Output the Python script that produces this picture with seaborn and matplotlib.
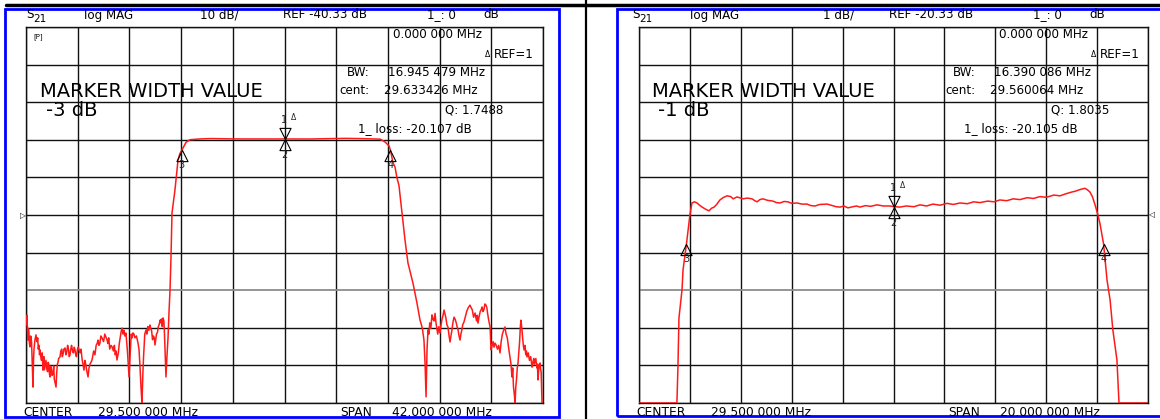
import numpy as np
import pandas as pd
import matplotlib
matplotlib.use("Agg")
import matplotlib.pyplot as plt
import seaborn as sns
from matplotlib.path import Path
from matplotlib.lines import Line2D
from matplotlib.patches import Rectangle

# ---------------- data ----------------
# Left trace: S21 log MAG, 10 dB/div, REF -40.33 dB, center 29.5 MHz, span 42 MHz
left_freq = [8.50, 8.54, 8.58, 8.62, 8.66, 8.70, 8.74, 8.78, 8.82, 8.88, 8.95, 9.01, 9.07, 9.11, 9.15,
             9.23, 9.31, 9.38, 9.45, 9.50, 9.55, 9.60, 9.64, 9.70, 9.76, 9.82, 9.88,
             9.95, 10.00, 10.05, 10.12, 10.18, 10.25, 10.30, 10.35, 10.40, 10.45, 10.50, 10.55, 10.62,
             10.69, 10.75, 10.80, 10.87, 10.94, 11.00, 11.05, 11.10, 11.15,
             11.26, 11.33, 11.40, 11.45, 11.50, 11.58, 11.67, 11.74, 11.80, 11.88, 11.95, 12.01,
             12.07, 12.14, 12.20, 12.28, 12.35, 12.42, 12.48, 12.54, 12.60, 12.68, 12.75,
             12.89, 12.97, 13.05, 13.13, 13.21, 13.28, 13.35, 13.45, 13.54, 13.62, 13.70, 13.78,
             13.86, 14.00, 14.10, 14.20, 14.28, 14.35, 14.42, 14.50, 14.58, 14.67,
             14.80, 14.90, 15.00, 15.08, 15.15, 15.22, 15.30, 15.40, 15.49, 15.60, 15.68, 15.75,
             15.82, 15.89, 16.00, 16.08, 16.15, 16.22, 16.30, 16.38, 16.45, 16.53,
             16.62, 16.68, 16.75, 16.81, 16.87, 16.95, 17.05, 17.12, 17.19, 17.27, 17.35, 17.47,
             17.60, 17.68, 17.75, 17.84, 17.92, 18.00, 18.05, 18.15,
             18.25, 18.32, 18.40, 18.48, 18.57, 18.63, 18.70, 18.78, 18.85, 18.92, 18.98, 19.04,
             19.10, 19.18, 19.25, 19.32, 19.39, 19.45, 19.50, 19.57, 19.63, 19.70, 19.75,
             19.81, 19.87, 19.95, 20.04, 20.12, 20.20, 20.28, 20.36, 20.60, 20.85, 21.00, 21.16, 21.50,
             21.82, 22.64, 23.50, 24.50, 25.50, 26.50, 27.50, 28.50, 29.50, 30.50, 31.50, 32.50,
             33.50, 34.50, 35.50, 36.50, 37.26, 37.67, 38.00, 38.106, 38.32, 38.48, 38.64, 38.80,
             39.05, 39.29, 39.53, 39.94, 40.10, 40.26, 40.51, 40.62, 40.70, 40.83, 40.92, 41.00, 41.08, 41.16,
             41.23, 41.30, 41.39, 41.48, 41.56, 41.65, 41.73, 41.81, 41.88, 41.95, 42.04, 42.13, 42.22,
             42.30, 42.38, 42.46, 42.53, 42.60, 42.69, 42.78, 42.87, 42.95, 43.02, 43.10,
             43.18, 43.27, 43.36, 43.45, 43.52, 43.60, 43.68, 43.76, 43.83, 43.90, 43.98, 44.08, 44.18,
             44.30, 44.42, 44.57, 44.66, 44.75, 44.86, 44.98, 45.04, 45.10, 45.16, 45.22,
             45.30, 45.40, 45.48, 45.55, 45.62, 45.70, 45.78, 45.87, 45.94, 46.00, 46.10, 46.20, 46.28,
             46.36, 46.45, 46.52, 46.60, 46.70, 46.80, 46.90, 47.01, 47.10, 47.20,
             47.30, 47.41, 47.50, 47.60, 47.70, 47.82, 47.90, 47.98, 48.04, 48.10, 48.17, 48.23, 48.29,
             48.35, 48.41, 48.47, 48.53, 48.60, 48.66, 48.71, 48.78, 48.85, 48.90, 48.96,
             49.03, 49.10, 49.15, 49.20, 49.30, 49.40, 49.50, 49.61, 49.68, 49.75, 49.80, 49.85,
             49.92, 50.00, 50.05, 50.09, 50.15, 50.20, 50.26, 50.31, 50.35, 50.42]
left_db = [-67.7, -69.5, -67.0, -71.0, -73.6, -70.5, -71.7, -74.5, -75.4, -72.5, -74.0, -80.0, -86.1, -79.0, -76.0,
           -73.5, -72.2, -74.0, -73.0, -76.0, -75.0, -77.5, -76.2, -78.0, -79.0, -77.0, -81.6,
           -78.0, -81.5, -80.5, -79.0, -81.0, -82.0, -79.5, -80.0, -82.5, -83.4, -80.5, -81.0, -83.0,
           -82.5, -80.5, -84.0, -85.0, -86.1, -82.0, -80.0, -79.5, -78.5,
           -78.1, -76.5, -76.0, -78.0, -77.5, -76.0, -75.7, -77.5, -77.0, -75.0, -76.0, -78.0,
           -77.6, -76.0, -75.0, -76.5, -77.0, -75.5, -76.2, -77.5, -78.0, -76.0, -75.5,
           -77.0, -76.0, -78.5, -80.0, -81.6, -79.0, -80.0, -82.0, -83.4, -81.0, -80.0, -79.5,
           -78.9, -76.5, -77.5, -75.0, -74.5, -73.6, -75.0, -74.5, -72.5, -73.0,
           -74.0, -72.0, -72.8, -73.5, -74.5, -73.0, -76.0, -75.0, -75.4, -76.5, -75.0, -77.5,
           -76.5, -78.9, -77.0, -74.5, -73.0, -71.5, -70.4, -72.0, -71.0, -72.5,
           -71.7, -74.0, -77.0, -80.0, -83.4, -78.0, -72.0, -73.0, -71.7, -72.0, -73.0, -72.5,
           -74.4, -76.0, -80.0, -86.0, -90.3, -82.0, -78.0, -72.0,
           -70.9, -72.0, -70.0, -71.0, -69.6, -70.5, -71.0, -73.5, -72.5, -73.0, -74.9, -73.5,
           -72.0, -71.5, -70.0, -69.5, -68.3, -69.0, -68.0, -70.0, -67.7, -68.5, -72.0,
           -78.0, -83.4, -78.0, -72.8, -66.0, -60.3, -51.5, -39.8, -33.7, -25.7, -24.0, -23.1, -21.0,
           -20.3, -20.1, -20.0, -20.05, -20.1, -20.1, -20.12, -20.1, -20.107, -20.1, -20.12, -20.05,
           -20.0, -19.95, -20.0, -20.1, -20.15, -20.9, -22.0, -23.1, -26.5, -27.6, -30.5, -32.5,
           -39.8, -47.0, -53.1, -58.5, -61.1, -63.7, -68.3, -69.5, -70.5, -73.6, -80.0, -88.7, -76.0, -70.9,
           -72.0, -69.0, -70.5, -66.9, -68.0, -68.5, -66.5, -69.1, -70.5, -72.0, -70.0, -71.7, -69.5,
           -68.0, -67.0, -65.6, -66.5, -67.5, -69.5, -70.1, -72.5, -74.1, -72.5, -71.0,
           -69.0, -67.5, -68.0, -69.0, -70.0, -70.9, -72.5, -73.6, -72.0, -71.0, -69.5, -68.8, -67.5,
           -66.0, -65.0, -64.3, -65.0, -65.5, -67.5, -66.4, -67.5, -68.5, -67.0, -69.1,
           -67.5, -66.0, -65.5, -64.8, -66.0, -65.5, -64.0, -64.3, -65.0, -66.5, -68.5, -70.1, -76.2,
           -75.0, -74.0, -75.5, -74.4, -75.0, -76.0, -75.0, -77.0, -74.0, -72.0,
           -71.0, -70.1, -72.0, -73.0, -75.5, -78.1, -80.0, -83.4, -81.0, -86.0, -88.0, -90.3, -86.0,
           -84.0, -81.0, -79.7, -77.0, -74.0, -70.0, -68.3, -70.5, -73.0, -75.0, -76.2,
           -75.0, -77.5, -76.5, -78.1, -77.0, -79.0, -78.0, -80.8, -79.5, -78.5, -80.0, -79.4,
           -78.5, -81.0, -80.0, -84.2, -81.5, -80.0, -79.7, -81.5, -82.0, -90.3]

# Right trace: S21 log MAG, 1 dB/div, REF -20.33 dB, center 29.5 MHz, span 20 MHz
right_freq = [19.50, 20.99, 21.03, 21.07, 21.19, 21.23, 21.365, 21.50, 21.58, 21.68, 21.78, 21.88,
              21.98, 22.10, 22.25, 22.35, 22.45, 22.55, 22.68, 22.80, 22.96, 23.10, 23.20, 23.35,
              23.45, 23.59, 23.75, 23.94, 24.05, 24.14, 24.25, 24.37, 24.55, 24.76, 24.90, 25.04,
              25.20, 25.35, 25.50, 25.71, 25.90, 26.10, 26.25, 26.42, 26.60, 26.89, 27.10, 27.25,
              27.40, 27.55, 27.71, 27.90, 28.05, 28.18, 28.40, 28.60, 28.85, 29.10, 29.36, 29.50,
              29.75, 30.00, 30.30, 30.54, 30.80, 31.05, 31.33, 31.60, 31.85, 32.11, 32.40, 32.65,
              32.90, 33.20, 33.45, 33.68, 33.95, 34.20, 34.47, 34.75, 35.00, 35.26, 35.50, 35.80,
              36.04, 36.30, 36.50, 36.63, 36.80, 36.90, 37.02, 37.12, 37.22, 37.32, 37.42, 37.52,
              37.61, 37.755, 37.89, 38.01, 38.12, 38.28, 38.36, 39.50]
right_db = [-25.33, -25.33, -24.37, -23.07, -22.32, -21.79, -21.10, -20.33, -20.01, -19.98, -20.01, -20.07,
            -20.12, -20.17, -20.22, -20.15, -20.12, -20.05, -19.93, -19.87, -19.82, -19.84, -19.90, -19.85,
            -19.87, -19.90, -19.88, -19.90, -19.95, -19.98, -19.92, -19.90, -19.94, -19.96, -20.00, -20.01,
            -19.97, -19.98, -20.02, -20.01, -20.04, -20.04, -20.08, -20.09, -20.05, -20.04, -20.08, -20.11,
            -20.12, -20.09, -20.14, -20.11, -20.09, -20.12, -20.08, -20.10, -20.06, -20.09, -20.09, -20.105,
            -20.12, -20.09, -20.11, -20.06, -20.09, -20.04, -20.07, -20.02, -20.05, -20.01, -20.03, -19.98,
            -20.00, -19.96, -19.98, -19.93, -19.95, -19.90, -19.92, -19.87, -19.89, -19.84, -19.86, -19.80,
            -19.82, -19.76, -19.72, -19.70, -19.66, -19.64, -19.62, -19.66, -19.72, -19.85, -20.06, -20.30,
            -20.55, -21.10, -22.06, -22.59, -23.39, -24.19, -25.33, -25.33]

# Markers: 1 (delta ref), 2, 3, 4
marker_labels = ["1", "2", "3", "4"]
left_marker_freq = [29.5, 29.5, 21.16, 38.106]
left_marker_db = [-20.107, -20.107, -23.107, -23.107]
right_marker_freq = [29.5, 29.5, 21.365, 37.755]
right_marker_db = [-20.105, -20.105, -21.105, -21.105]

left_ref, left_scale = -40.33, 10.0
right_ref, right_scale = -20.33, 1.0
center_mhz = 29.5
left_span, right_span = 42.0, 20.0

left_info = ["0.000 000 MHz", "16.945 479 MHz", "29.633426 MHz", "Q: 1.7488", "1_ loss: -20.107 dB"]
right_info = ["0.000 000 MHz", "16.390 086 MHz", "29.560064 MHz", "Q: 1.8035", "1_ loss: -20.105 dB"]

# ---------------- figure ----------------
sns.set_theme(style="white")
plt.rcParams['font.family'] = ['DejaVu Sans']

W, H = 1160, 419
fig = plt.figure(figsize=(W / 100, H / 100), dpi=100)
fig.patch.set_facecolor("white")


def fx(x):
    return x / W


def fy(y):
    return 1 - y / H


def axes_at(x0, y0, x1, y1):
    return fig.add_axes([fx(x0), fy(y1), (x1 - x0) / W, (y1 - y0) / H])


def T(x, y, s, size=8.6, ha="left", va="baseline", **kw):
    fig.text(fx(x), fy(y), s, fontsize=size, ha=ha, va=va, color="black", **kw)


UP = Path([(0, 0), (-0.5, -1), (0.5, -1), (0, 0)],
          [Path.MOVETO, Path.LINETO, Path.LINETO, Path.CLOSEPOLY])
DOWN = Path([(0, 0), (-0.5, 1), (0.5, 1), (0, 0)],
            [Path.MOVETO, Path.LINETO, Path.LINETO, Path.CLOSEPOLY])


def draw_panel(ax, freq, db, ref, scale, span, mf, mdb):
    xlim = (center_mhz - span / 2, center_mhz + span / 2)
    ylim = (ref - 5 * scale, ref + 5 * scale)
    df = pd.DataFrame({"f": freq, "db": db})
    sns.lineplot(data=df, x="f", y="db", ax=ax, color="#ff1a1a", lw=1.1,
                 estimator=None, sort=False, zorder=4)
    ax.set_xlim(*xlim)
    ax.set_ylim(*ylim)
    ax.set_xticks(np.linspace(xlim[0], xlim[1], 11))
    ax.set_yticks(np.linspace(ylim[0], ylim[1], 11))
    ax.tick_params(length=0, labelbottom=False, labelleft=False)
    ax.grid(True, color="#111111", lw=1.0)
    ax.set_axisbelow(True)
    ax.get_ygridlines()[3].set_color("#8c8c8c")
    ax.get_ygridlines()[3].set_linewidth(1.3)
    for s in ax.spines.values():
        s.set_color("#111111")
        s.set_linewidth(1.0)
    ax.set_xlabel("")
    ax.set_ylabel("")
    ax.patch.set_alpha(0)
    # markers
    kinds = [DOWN, UP, UP, UP]
    offs = [(0, 19), (0, -16), (0, -15), (0, -15)]
    for lab, f, d, k, o in zip(marker_labels, mf, mdb, kinds, offs):
        ax.plot([f], [d], marker=k, ms=16, mfc="none", mec="black", mew=0.8,
                ls="none", zorder=6, clip_on=False)
        ax.annotate(lab, (f, d), xytext=o, textcoords="offset pixels",
                    ha="center", va="center", fontsize=7, zorder=7)
    ax.annotate("\u0394", (mf[0], mdb[0]), xytext=(9, 21), textcoords="offset pixels",
                ha="center", va="center", fontsize=5.5, zorder=7)


axL = axes_at(26, 27, 543, 403)
axR = axes_at(639, 27, 1148, 403)
draw_panel(axL, left_freq, left_db, left_ref, left_scale, left_span, left_marker_freq, left_marker_db)
draw_panel(axR, right_freq, right_db, right_ref, right_scale, right_span, right_marker_freq, right_marker_db)

# ---------------- frames ----------------
fig.add_artist(Rectangle((fx(5), fy(417)), (559 - 5) / W, (417 - 9.5) / H, fill=False,
                         ec="#0000ff", lw=2.0, transform=fig.transFigure))
fig.add_artist(Rectangle((fx(617), fy(416)), (1175 - 617) / W, (416 - 9) / H, fill=False,
                         ec="#0000ff", lw=2.0, transform=fig.transFigure, clip_on=False))
fig.add_artist(Line2D([fx(6), 1], [fy(5), fy(5)], color="black", lw=2.5, transform=fig.transFigure))
fig.add_artist(Line2D([fx(586), fx(586)], [0, 1], color="black", lw=1.6, transform=fig.transFigure))


# ---------------- texts ----------------
def panel_texts(dx, big_x, scale_txt, scale_x, ref, info, db_txt, span, center_x, span_x):
    T(26 + dx, 18.5, "S")
    T(33 + dx, 21.5, "21", size=7.5)
    T(84 + dx, 18.5, "log MAG")
    T(scale_x, 18.5, scale_txt)
    T(283 + dx, 18.5, f"REF {ref:.2f} dB")
    T(427 + dx, 18.5, "1_: 0")
    T(483 + dx, 18.5, "dB")
    T(393 + dx, 37.5, info[0])
    T(485 + dx, 57, "\u0394", size=5.5)
    T(494 + dx, 57.5, "REF=1")
    T(347 + dx, 75.5, "BW:")
    T(388 + dx, 75.5, info[1])
    T(big_x, 96.5, "MARKER WIDTH VALUE", size=14)
    T(339 + dx, 94.5, "cent:")
    T(384 + dx, 94.5, info[2])
    T(big_x + 6, 116, db_txt, size=14)
    T(445 + dx, 113.5, info[3])
    T(358 + dx, 132.5, info[4])
    T(center_x, 416, "CENTER", size=8.8)
    T(center_x + 75, 416, "29.500 000 MHz", size=8.8)
    T(span_x, 416, "SPAN", size=8.8)
    T(span_x + 52, 416, f"{span:.3f} 000 MHz", size=8.8)


panel_texts(0, 40, "10 dB/", 200, left_ref, left_info, "-3 dB", left_span, 23, 340)
panel_texts(606, 652, "1 dB/", 823, right_ref, right_info, "-1 dB", right_span, 636, 948)

T(33, 38, "[P]", size=5)
T(20, 218, "\u25b7", size=5.5)
T(1149, 217, "\u25c1", size=5.5)

fig.savefig("out.png", dpi=100, facecolor="white")
